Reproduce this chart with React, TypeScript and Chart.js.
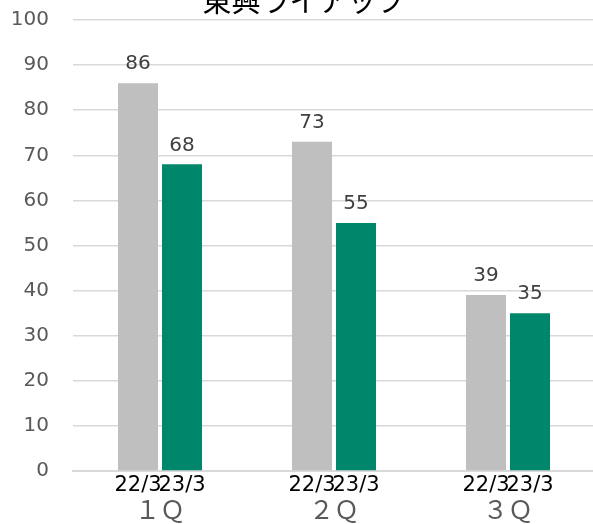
import React, { useEffect, useRef } from "react";
import { Chart, registerables } from "chart.js";

Chart.register(...registerables);

const titleText = "東興ライアップ";
const quarters = ["１Ｑ", "２Ｑ", "３Ｑ"];
const seriesNames = ["22/3", "23/3"];
const values2203 = [86, 73, 39];
const values2303 = [68, 55, 35];
const yMin = 0;
const yMax = 100;
const yStep = 10;

const GRAY = "#bfbfbf";
const GREEN = "#00866a";
const SHIFT = 16;

const overlayPlugin = {
  id: "overlay",
  afterDraw(chart: any) {
    const ctx = chart.ctx;
    const xScale = chart.scales.x;
    ctx.save();
    ctx.font = '29px "Noto Sans CJK JP"';
    ctx.fillStyle = "#000000";
    ctx.textAlign = "center";
    ctx.textBaseline = "alphabetic";
    ctx.fillText(titleText, 304, chart.chartArea.top - 8);

    chart.data.datasets.forEach((ds: any, di: number) => {
      const meta = chart.getDatasetMeta(di);
      meta.data.forEach((bar: any, i: number) => {
        ctx.font = '20px "DejaVu Sans"';
        ctx.fillStyle = "#404040";
        ctx.textAlign = "center";
        ctx.textBaseline = "middle";
        ctx.fillText(String(ds.data[i]), bar.x, bar.y - 19);
        ctx.font = '21px "DejaVu Sans"';
        ctx.fillStyle = "#000000";
        ctx.fillText(seriesNames[di], bar.x, xScale.top + 15);
      });
    });
    ctx.restore();
  },
};

export default function App() {
  const ref = useRef<HTMLCanvasElement>(null);
  useEffect(() => {
    if (!ref.current) return;
    const chart = new Chart(ref.current, {
      type: "bar",
      data: {
        labels: quarters,
        datasets: [
          {
            label: seriesNames[0],
            data: values2203,
            backgroundColor: GRAY,
            categoryPercentage: 0.506,
            barPercentage: 0.909,
          },
          {
            label: seriesNames[1],
            data: values2303,
            backgroundColor: GREEN,
            categoryPercentage: 0.506,
            barPercentage: 0.909,
          },
        ],
      },
      options: {
        responsive: false,
        animation: false,
        layout: { autoPadding: false, padding: { top: 20, right: 5, left: 0, bottom: 0 } },
        plugins: {
          legend: { display: false },
          title: { display: false },
          tooltip: { enabled: false },
        },
        scales: {
          x: {
            grid: { display: false, drawTicks: false },
            border: { display: true, color: "#d9d9d9", width: 2 },
            ticks: {
              color: "#595959",
              font: { family: '"Noto Sans CJK JP"', size: 25 },
              padding: 23,
            },
            afterFit: (s: any) => {
              s.height = 53;
            },
          },
          y: {
            min: yMin,
            max: yMax,
            grid: { color: "#d9d9d9", lineWidth: 1.5, drawTicks: false },
            border: { display: false },
            ticks: {
              stepSize: yStep,
              color: "#595959",
              font: { family: '"DejaVu Sans"', size: 20 },
              padding: 24,
            },
            afterFit: (s: any) => {
              s.width = 73;
            },
          },
        },
      },
      plugins: [overlayPlugin],
    });
    return () => chart.destroy();
  }, []);
  return (
    <div
      style={{
        position: "fixed",
        left: 0,
        top: 0,
        width: 593,
        height: 524,
        overflow: "hidden",
        background: "#ffffff",
      }}
    >
      <canvas
        ref={ref}
        width={600}
        height={524 + SHIFT}
        style={{ display: "block", position: "absolute", left: 0, top: -SHIFT }}
      />
    </div>
  );
}
